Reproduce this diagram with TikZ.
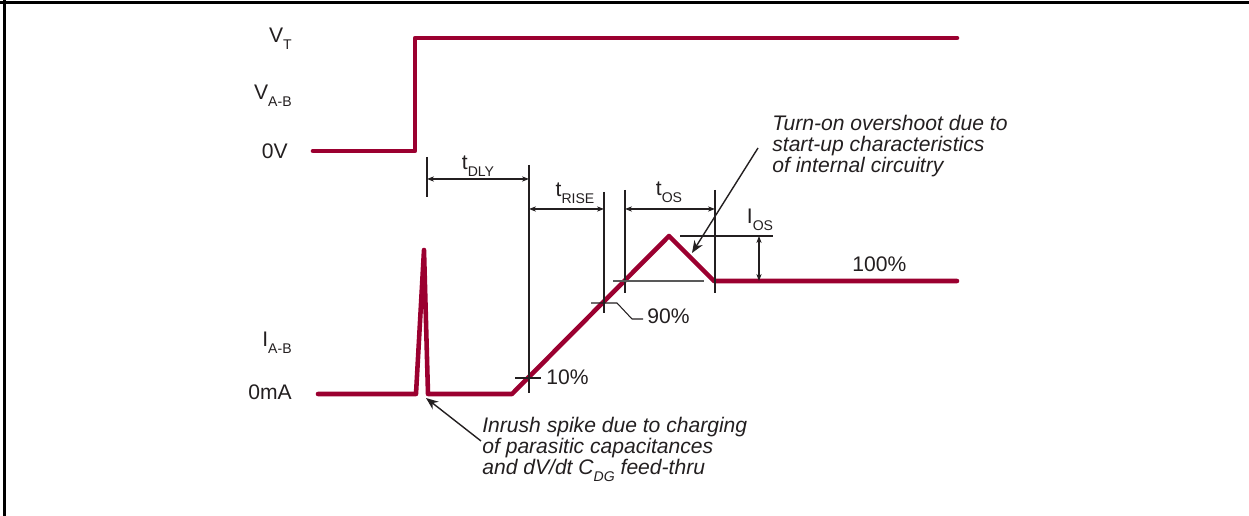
\documentclass[tikz,border=0pt]{standalone}
\usepackage{fontspec}
\setmainfont{Liberation Sans}
\usetikzlibrary{arrows.meta}
\definecolor{wave}{RGB}{155,0,48}
\definecolor{ink}{RGB}{35,31,32}
\newcommand{\dropsub}[1]{\raisebox{-0.3em}{\fontsize{8}{8}\selectfont #1}}

\begin{document}
\begin{tikzpicture}[x=0.02cm,y=-0.02cm,
  trace/.style={draw=wave,line width=2.6pt,line cap=round,line join=round},
  dim/.style={draw=ink,line width=0.6pt},
  dimarrow/.style={dim,{Stealth[length=4pt,width=3pt]}-{Stealth[length=4pt,width=3pt]}},
  pointer/.style={draw=ink,line width=0.8pt,-{Stealth[length=7pt,width=5.5pt]}},
  lbl/.style={inner sep=0pt,text=ink,font=\fontsize{12}{12}\selectfont},
  note/.style={lbl,align=left,font=\fontsize{12}{12}\selectfont\itshape}]
  \useasboundingbox (0,0) rectangle (1249,516);
  \draw[line width=1.7pt] (0,2.5) -- (1249,2.5);
  \draw[line width=1.7pt] (4.5,0) -- (4.5,516);

  \draw[trace] (313,151) -- (415,151) -- (415,38) -- (957,38);
  \draw[trace] (318,394) -- (416,394) -- (424,250) -- (428,394) -- (512,394)
    -- (669,236) -- (714,281) -- (957,281);

  \node[lbl,anchor=base east] (vt) at (292,43) {V\dropsub{T}};
  \node[lbl,anchor=base east] (vab) at (292,100) {V\dropsub{A-B}};
  \node[lbl,anchor=base east] (zerov) at (288,159) {0V};
  \node[lbl,anchor=base east] (iab) at (292,347) {I\dropsub{A-B}};
  \node[lbl,anchor=base east] (zeroma) at (292,400) {0mA};

  \draw[dim] (427,157) -- (427,197);
  \draw[dim] (529,165) -- (529,393);
  \draw[dimarrow] (427,179) -- (529,179);
  \node[lbl,anchor=base] (tdly) at (478,170) {t\dropsub{DLY}};
  \draw[dim] (604,192) -- (604,313);
  \draw[dimarrow] (529,209) -- (604,209);
  \node[lbl,anchor=base] (trise) at (575,197) {t\dropsub{RISE}};
  \draw[dim] (625,190) -- (625,293);
  \draw[dim] (715,190) -- (715,293);
  \draw[dimarrow] (625,209) -- (715,209);
  \node[lbl,anchor=base] (tos) at (669,196) {t\dropsub{OS}};

  \draw[dim] (680,236) -- (773,236);
  \draw[dim,draw=gray!70!black,line width=0.9pt] (613,281) -- (704,281);
  \draw[dimarrow] (759,236) -- (759,281);
  \node[lbl,anchor=base] (ios) at (760,224) {I\dropsub{OS}};
  \node[lbl,anchor=base west] (full) at (852,272) {100\%};

  \draw[dim] (515,378) -- (541,378);
  \node[lbl,anchor=base west] (ten) at (546,385) {10\%};
  \draw[dim] (591,303) -- (617,303) -- (632,319) -- (643,319);
  \node[lbl,anchor=base west] (ninety) at (647,324) {90\%};

  \node[note,anchor=base west] (overshoot) at (772,173)
    {Turn-on overshoot due to\\start-up characteristics\\of internal circuitry};
  \coordinate (overshoot tail) at (758,148);
  \coordinate (overshoot tip) at (692,253);
  \draw[pointer] (overshoot tail) -- (overshoot tip);

  \node[note,anchor=base west] (inrush) at (482,475)
    {Inrush spike due to charging\\of parasitic capacitances\\and dV/dt C\dropsub{DG} feed-thru};
  \coordinate (inrush tail) at (481,441);
  \coordinate (inrush tip) at (426,398);
  \draw[pointer] (inrush tail) -- (inrush tip);
\end{tikzpicture}
\end{document}
